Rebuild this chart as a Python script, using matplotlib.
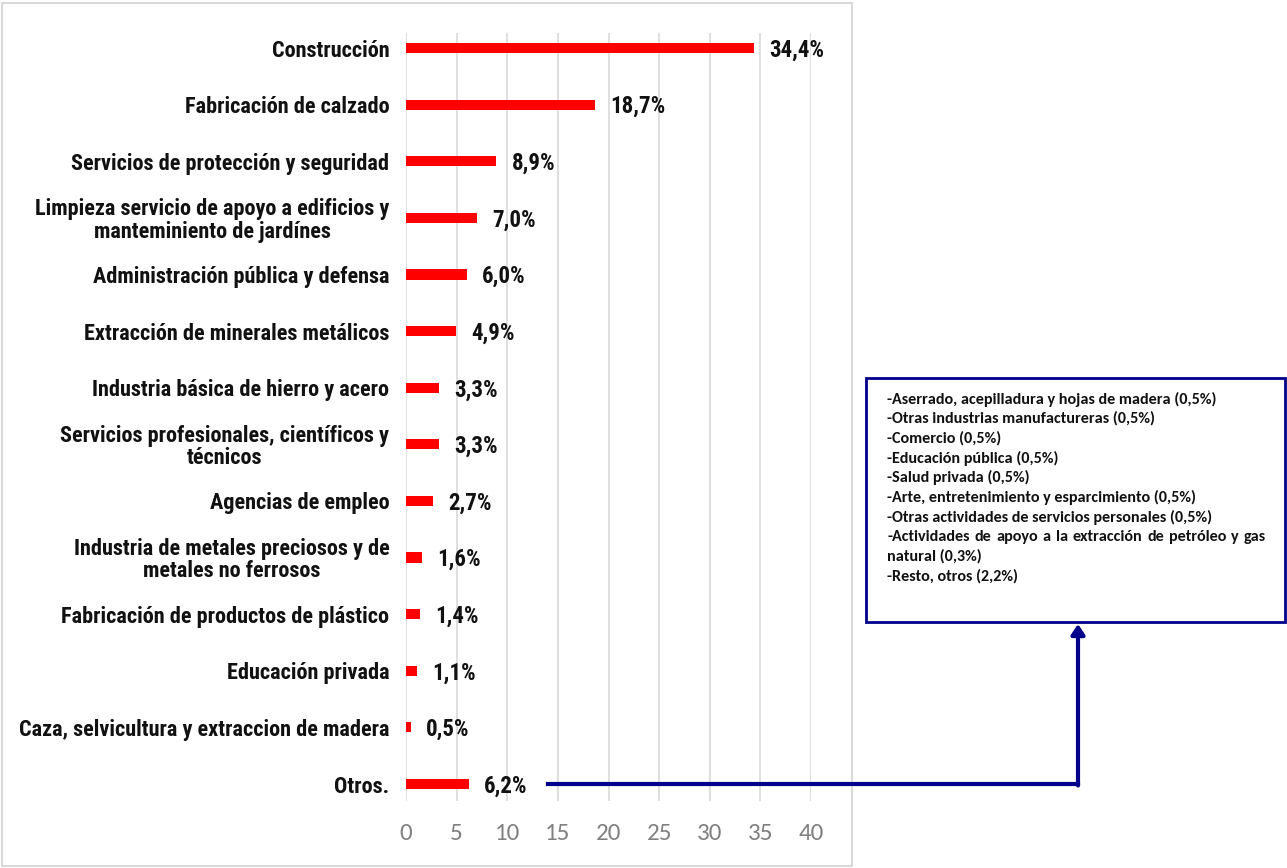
import matplotlib
matplotlib.use("Agg")
import matplotlib.pyplot as plt
from matplotlib.patches import Rectangle, FancyArrowPatch
from matplotlib.lines import Line2D

categories = [
    "Construcción",
    "Fabricación de calzado",
    "Servicios de protección y seguridad",
    "Limpieza servicio de apoyo a edificios y\nmanteminiento de jardínes",
    "Administración pública y defensa",
    "Extracción de minerales metálicos",
    "Industria básica de hierro y acero",
    "Servicios profesionales, científicos y\ntécnicos",
    "Agencias de empleo",
    "Industria de metales preciosos y de\nmetales no ferrosos",
    "Fabricación de productos de plástico",
    "Educación privada",
    "Caza, selvicultura y extraccion de madera",
    "Otros.",
]
values = [34.4, 18.7, 8.9, 7.0, 6.0, 4.9, 3.3, 3.3, 2.7, 1.6, 1.4, 1.1, 0.5, 6.2]
x_ticks = [0, 5, 10, 15, 20, 25, 30, 35, 40]

otros_detail = [
    "-Aserrado, acepilladura y hojas de madera (0,5%)",
    "-Otras industrias manufactureras (0,5%)",
    "-Comercio (0,5%)",
    "-Educación pública (0,5%)",
    "-Salud privada (0,5%)",
    "-Arte, entretenimiento y esparcimiento (0,5%)",
    "-Otras actividades de servicios personales (0,5%)",
    "-Actividades de apoyo a la extracción de petróleo y gas",
    "natural (0,3%)",
    "-Resto, otros (2,2%)",
]
justified_lines = {7}

NARROW = ["Roboto Condensed", "Liberation Sans"]
CALIBRI = ["Carlito", "Lato"]

W, H = 1287, 868
fig = plt.figure(figsize=(W / 100, H / 100), dpi=100)
fig.patch.set_facecolor("white")

def fx(px):
    return px / W

def fy(py):
    return 1 - py / H

# outer chart frame
fig.add_artist(Rectangle((fx(2), fy(866)), fx(850), 863 / H, transform=fig.transFigure,
                         fill=False, edgecolor="#d9d9d9", linewidth=1.5))

ax_left, ax_right, ax_top, ax_bot = 406, 811, 33, 801
ax = fig.add_axes([fx(ax_left), fy(ax_bot), fx(ax_right - ax_left), (ax_bot - ax_top) / H])

pos = list(range(len(categories)))
ax.barh(pos, values, height=0.18, color="#ff0000", zorder=3)
ax.set_xlim(0, 40)
ax.set_ylim(13.3, -0.265)

ax.set_xticks(x_ticks)
ax.set_xticklabels([str(t) for t in x_ticks], fontsize=18, color="#808080", family=CALIBRI)
ax.tick_params(axis="x", length=0, pad=16)
ax.set_yticks(pos)
ax.set_yticklabels(categories, fontsize=16, fontweight="bold", family=NARROW,
                   multialignment="center", color="#111111", linespacing=1.02)
ax.tick_params(axis="y", length=0, pad=12)
ax.grid(axis="x", color="#d9d9d9", linewidth=1.2, zorder=0)
for s in ax.spines.values():
    s.set_visible(False)

for p, v in zip(pos, values):
    ax.annotate(f"{v:.1f}%".replace(".", ","), xy=(v, p), xytext=(11, -1.5),
                textcoords="offset points", ha="left", va="center",
                fontsize=16.5, fontweight="bold", family=NARROW, color="#111111")

# detail box for "Otros."
navy = "#00008b"
bx0, by0, bx1, by1 = 866, 378, 1285, 622
fig.add_artist(Rectangle((fx(bx0), fy(by1)), fx(bx1 - bx0), (by1 - by0) / H,
                         transform=fig.transFigure, fill=False, edgecolor=navy, linewidth=2))
line_h = 19.7
text_x0, text_x1 = 887, 1266
box_font = dict(ha="left", va="center", fontsize=11.6, fontweight="bold", family=CALIBRI, color="#111111")
renderer = fig.canvas.get_renderer()
for i, line in enumerate(otros_detail):
    y = fy(399 + i * line_h)
    if i not in justified_lines:
        fig.text(fx(text_x0), y, line, **box_font)
        continue
    # justified line: spread the words across the full text width
    words = line.split(" ")
    arts = [fig.text(0, y, w, **box_font) for w in words]
    widths = [a.get_window_extent(renderer).width for a in arts]
    gap = (text_x1 - text_x0 - sum(widths)) / (len(words) - 1)
    x = text_x0
    for a, wd in zip(arts, widths):
        a.set_x(fx(x))
        x += wd + gap

# connector from the "Otros." bar to the box
fig.add_artist(Line2D([fx(548), fx(1078)], [fy(784), fy(784)], transform=fig.transFigure,
                      color=navy, linewidth=3))
fig.add_artist(FancyArrowPatch((fx(1078), fy(785.5)), (fx(1078), fy(624)),
                               transform=fig.transFigure, arrowstyle="-|>,head_length=6,head_width=4",
                               color=navy, linewidth=3, shrinkA=0, shrinkB=0))

fig.savefig("out.png", dpi=100)
